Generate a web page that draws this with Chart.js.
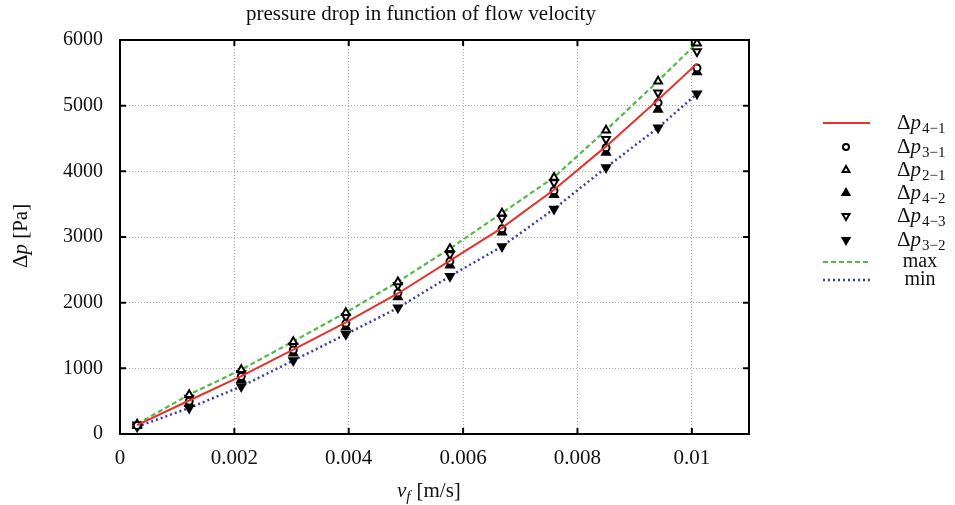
<!DOCTYPE html>
<html>
<head>
<meta charset="utf-8">
<script src="https://cdn.jsdelivr.net/npm/chart.js"></script>
<style>
  body { margin: 0; background: #fff; }
  #wrap { width: 955px; height: 505px; }
</style>
</head>
<body>
<div id="wrap"><canvas id="chart" width="955" height="505"></canvas></div>
<script>
// flow velocity [m/s]
const velocity = [0.0003, 0.00121, 0.00212, 0.00303, 0.00395, 0.00486, 0.00577, 0.00668, 0.00759, 0.0085, 0.00941, 0.01009];

// pressure drops [Pa]
const dp41 = [135, 510, 880, 1285, 1700, 2140, 2640, 3140, 3720, 4380, 5090, 5640];
const dp31 = [130, 497, 876, 1280, 1685, 2148, 2629, 3124, 3705, 4361, 5043, 5573];
const dp21 = [150, 598, 977, 1406, 1845, 2315, 2821, 3361, 3906, 4624, 5371, 5950];
const dp42 = [125, 462, 826, 1230, 1624, 2088, 2568, 3073, 3644, 4285, 4942, 5512];
const dp43 = [140, 548, 927, 1341, 1785, 2265, 2735, 3291, 3830, 4488, 5195, 5826];
const dp32 = [110, 397, 724, 1118, 1518, 1921, 2402, 2856, 3427, 4058, 4664, 5180];
const maxLine = [152, 600, 980, 1410, 1850, 2318, 2825, 3365, 3910, 4628, 5375, 5955];
const minLine = [110, 397, 724, 1118, 1518, 1921, 2402, 2856, 3427, 4058, 4664, 5180];

// axes
const xTicks = [0, 0.002, 0.004, 0.006, 0.008, 0.01];
const xTickLabels = ['0', '0.002', '0.004', '0.006', '0.008', '0.01'];
const yTicks = [0, 1000, 2000, 3000, 4000, 5000, 6000];

const SERIF = '"Liberation Serif", "DejaVu Serif", serif';
const INK = '#111';

const pts = (ys) => velocity.map((v, i) => ({ x: v, y: ys[i] }));

// legend entries: Δp with subscript, or plain text
const legendItems = [
  { ds: 0, sub: '4\u22121' },
  { ds: 1, sub: '3\u22121' },
  { ds: 2, sub: '2\u22121' },
  { ds: 3, sub: '4\u22122' },
  { ds: 4, sub: '4\u22123' },
  { ds: 5, sub: '3\u22122' },
  { ds: 6, text: 'max' },
  { ds: 7, text: 'min' }
];

function marker(ds) {
  return {
    showLine: false,
    pointRadius: 4.5,
    pointBorderColor: '#000',
    pointBorderWidth: 2,
    ...ds
  };
}

const datasets = [
  { label: 'dp41', data: pts(dp41), borderColor: '#e8312a', borderWidth: 2, pointRadius: 0, showLine: true },
  marker({ label: 'dp31', data: pts(dp31), pointStyle: 'circle', pointBackgroundColor: '#fff', pointRadius: 3.5 }),
  marker({ label: 'dp21', data: pts(dp21), pointStyle: 'triangle', pointBackgroundColor: '#fff' }),
  marker({ label: 'dp42', data: pts(dp42), pointStyle: 'triangle', pointBackgroundColor: '#000' }),
  marker({ label: 'dp43', data: pts(dp43), pointStyle: 'triangle', pointRotation: 180, pointBackgroundColor: '#fff' }),
  marker({ label: 'dp32', data: pts(dp32), pointStyle: 'triangle', pointRotation: 180, pointBackgroundColor: '#000' }),
  { label: 'max', data: pts(maxLine), borderColor: '#55b947', borderWidth: 2.2, borderDash: [5, 3], pointRadius: 0, showLine: true },
  { label: 'min', data: pts(minLine), borderColor: '#3b3bab', borderWidth: 2.5, borderDash: [2, 3], pointRadius: 0, showLine: true }
];

// box, inward ticks, titles and legend
const decorations = {
  id: 'decorations',
  afterDatasetsDraw(chart) {
    const { ctx, chartArea: a, scales: { x, y } } = chart;
    ctx.save();
    ctx.strokeStyle = '#000';
    ctx.lineWidth = 2;
    ctx.beginPath();
    xTicks.forEach(v => {
      const px = x.getPixelForValue(v);
      ctx.moveTo(px, a.bottom); ctx.lineTo(px, a.bottom - 6);
      ctx.moveTo(px, a.top); ctx.lineTo(px, a.top + 6);
    });
    yTicks.forEach(v => {
      const py = y.getPixelForValue(v);
      ctx.moveTo(a.left, py); ctx.lineTo(a.left + 6, py);
      ctx.moveTo(a.right, py); ctx.lineTo(a.right - 6, py);
    });
    ctx.stroke();
    ctx.strokeRect(a.left, a.top, a.right - a.left, a.bottom - a.top);
    ctx.restore();
  },
  afterDraw(chart) {
    const { ctx } = chart;
    ctx.save();
    ctx.fillStyle = INK;
    ctx.textBaseline = 'alphabetic';

    // title
    ctx.font = '21px ' + SERIF;
    ctx.textAlign = 'center';
    ctx.fillText('pressure drop in function of flow velocity', 421, 20);

    // x title: v_f [m/s]
    ctx.textAlign = 'left';
    let xx = 397;
    ctx.font = 'italic 21px ' + SERIF;
    ctx.fillText('v', xx, 497); xx += ctx.measureText('v').width;
    ctx.font = 'italic 15px ' + SERIF;
    ctx.fillText('f', xx, 501); xx += ctx.measureText('f').width + 6;
    ctx.font = '21px ' + SERIF;
    ctx.fillText('[m/s]', xx, 497);

    // y title: Δp [Pa]
    ctx.save();
    ctx.translate(27, 236);
    ctx.rotate(-Math.PI / 2);
    ctx.font = '21px ' + SERIF;
    const w1 = ctx.measureText('\u0394').width;
    ctx.font = 'italic 21px ' + SERIF;
    const w2 = ctx.measureText('p').width;
    ctx.font = '21px ' + SERIF;
    const w3 = ctx.measureText(' [Pa]').width;
    let yx = -(w1 + w2 + w3) / 2;
    ctx.fillText('\u0394', yx, 0); yx += w1;
    ctx.font = 'italic 21px ' + SERIF;
    ctx.fillText('p', yx, 0); yx += w2;
    ctx.font = '21px ' + SERIF;
    ctx.fillText(' [Pa]', yx, 0);
    ctx.restore();

    // legend
    const rows = [123, 147, 170, 193, 216, 240, 262, 280];
    legendItems.forEach((it, i) => {
      const ds = chart.data.datasets[it.ds];
      const cy = rows[i];
      if (ds.showLine) {
        ctx.save();
        ctx.strokeStyle = ds.borderColor;
        ctx.lineWidth = ds.borderWidth;
        ctx.setLineDash(ds.borderDash || []);
        ctx.beginPath();
        ctx.moveTo(823, cy); ctx.lineTo(870, cy);
        ctx.stroke();
        ctx.restore();
      } else {
        ctx.save();
        ctx.strokeStyle = ds.pointBorderColor;
        ctx.fillStyle = ds.pointBackgroundColor;
        ctx.lineWidth = ds.pointBorderWidth;
        Chart.helpers.drawPoint(ctx, {
          pointStyle: ds.pointStyle,
          rotation: ds.pointRotation || 0,
          radius: ds.pointRadius - 0.5,
          borderWidth: ds.pointBorderWidth
        }, 846, cy);
        ctx.restore();
      }
      ctx.fillStyle = INK;
      if (it.text) {
        ctx.font = '20px ' + SERIF;
        ctx.textAlign = 'center';
        ctx.fillText(it.text, 920, cy + 5);
        ctx.textAlign = 'left';
      } else {
        let lx = 897;
        ctx.font = '21px ' + SERIF;
        ctx.fillText('\u0394', lx, cy + 6); lx += ctx.measureText('\u0394').width;
        ctx.font = 'italic 21px ' + SERIF;
        ctx.fillText('p', lx, cy + 6); lx += ctx.measureText('p').width + 1;
        ctx.font = '15px ' + SERIF;
        ctx.fillText(it.sub, lx, cy + 10);
      }
    });
    ctx.restore();
  }
};

new Chart(document.getElementById('chart'), {
  type: 'scatter',
  data: { datasets },
  options: {
    responsive: false,
    animation: false,
    devicePixelRatio: 1,
    layout: { padding: { left: 0, right: 206, top: 40, bottom: 0 } },
    plugins: { legend: { display: false }, title: { display: false }, tooltip: { enabled: false } },
    scales: {
      x: {
        type: 'linear',
        min: 0,
        max: 0.011,
        afterBuildTicks: (s) => { s.ticks = xTicks.map(v => ({ value: v })); },
        afterFit: (s) => { s.height = 71; },
        border: { display: false, dash: [1, 2] },
        grid: { color: '#aaaaaa', lineWidth: 1, drawTicks: false },
        ticks: {
          padding: 12,
          color: INK,
          font: { family: SERIF, size: 21 },
          maxRotation: 0,
          callback: (v) => { const i = xTicks.indexOf(v); return i >= 0 ? xTickLabels[i] : ''; }
        }
      },
      y: {
        type: 'linear',
        min: 0,
        max: 6000,
        afterBuildTicks: (s) => { s.ticks = yTicks.map(v => ({ value: v })); },
        afterFit: (s) => { s.width = 120; },
        border: { display: false, dash: [1, 2] },
        grid: { color: '#aaaaaa', lineWidth: 1, drawTicks: false },
        ticks: {
          padding: 17,
          color: INK,
          font: { family: SERIF, size: 20 },
          callback: (v) => String(v)
        }
      }
    }
  },
  plugins: [decorations]
});
</script>
</body>
</html>
